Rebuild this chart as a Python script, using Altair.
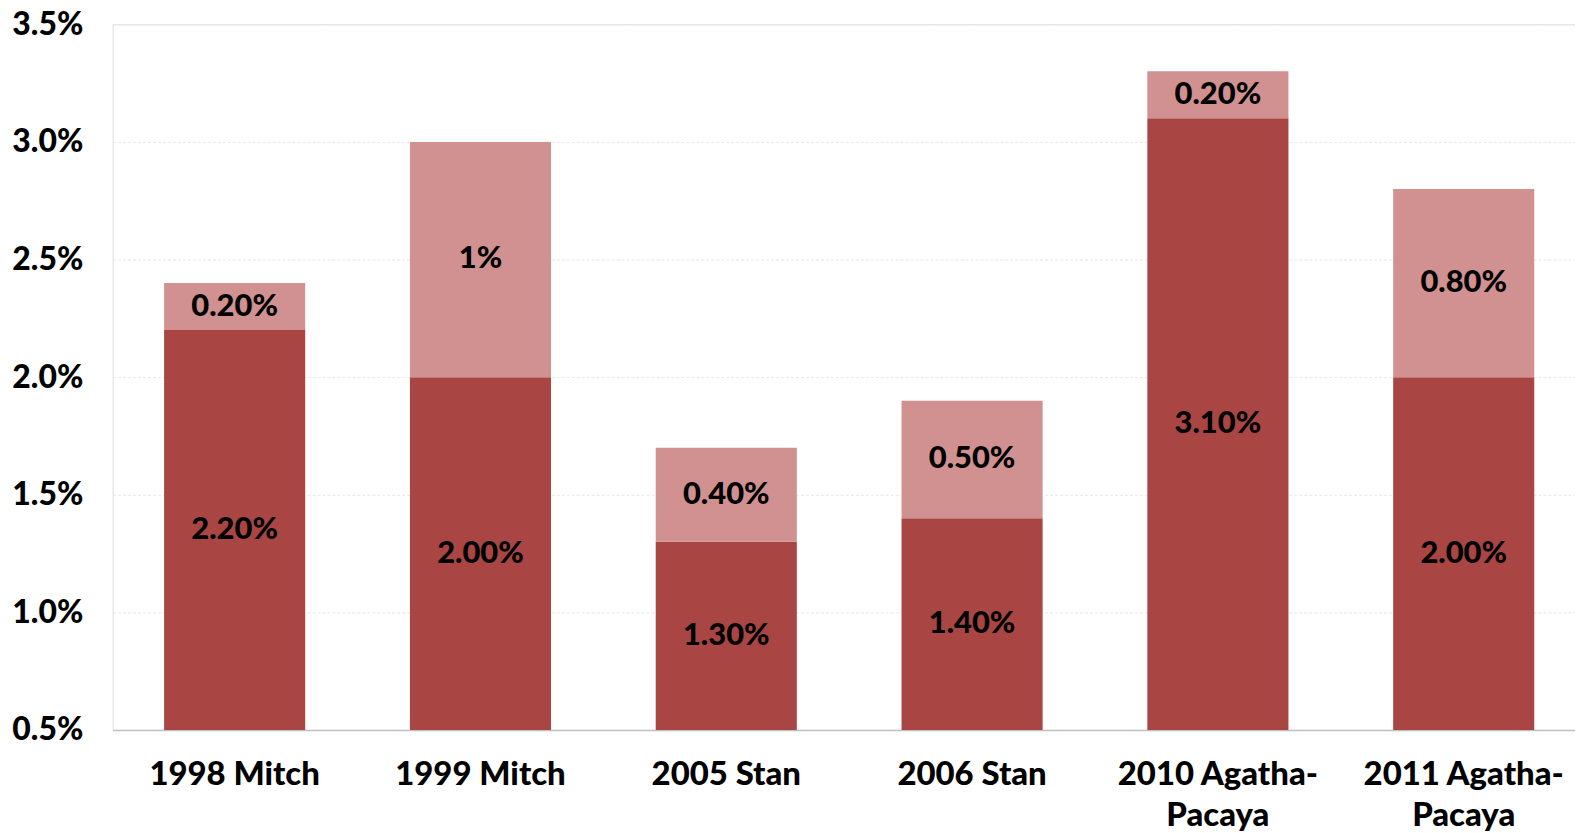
import altair as alt
import pandas as pd

categories = ["1998 Mitch", "1999 Mitch", "2005 Stan", "2006 Stan",
              "2010 Agatha-Pacaya", "2011 Agatha-Pacaya"]
dark_values = [2.2, 2.0, 1.3, 1.4, 3.1, 2.0]
light_values = [0.2, 1.0, 0.4, 0.5, 0.2, 0.8]
dark_labels = ["2.20%", "2.00%", "1.30%", "1.40%", "3.10%", "2.00%"]
light_labels = ["0.20%", "1%", "0.40%", "0.50%", "0.20%", "0.80%"]
y_ticks = [0.5, 1.0, 1.5, 2.0, 2.5, 3.0, 3.5]
y_min, y_max = 0.5, 3.5

DARK = "#A94644"
LIGHT = "#D19191"
FONT = "Lato"

df = pd.DataFrame({
    "cat": categories,
    "zero": [0.0] * len(categories),
    "dark": dark_values,
    "light": light_values,
    "dlab": dark_labels,
    "llab": light_labels,
})
df["top"] = df["dark"] + df["light"]
df["dmid"] = (df["dark"].clip(lower=y_min) + y_min) / 2
df["lmid"] = (df["dark"] + df["top"]) / 2

xenc = alt.X("cat:N", sort=categories, title=None,
             scale=alt.Scale(paddingInner=0.426, paddingOuter=0.1875, align=0.558),
             axis=alt.Axis(labelAngle=0, labelFont=FONT, labelFontSize=33,
                           labelFontWeight=900, labelColor="#000",
                           labelPadding=29, labelLineHeight=41, ticks=False,
                           labelLimit=0,
                           domainColor="#bfbfbf", domainWidth=1.5,
                           labelExpr="split(replace(datum.label, '-', '-|'), '|')"))
yscale = alt.Scale(domain=[y_min, y_max], nice=False, zero=False)
yaxis = alt.Axis(values=y_ticks,
                 labelExpr="format(datum.value, '.1f') + '%'",
                 labelFont=FONT, labelFontSize=32, labelFontWeight=900,
                 labelColor="#000", labelPadding=30, ticks=False, domain=False,
                 grid=True, gridColor="#e6e6e6", gridDash=[3, 2], gridWidth=1)

base = alt.Chart(df)

dark_bar = base.mark_bar(color=DARK, clip=True).encode(
    x=xenc,
    y=alt.Y("zero:Q", scale=yscale, axis=yaxis, title=None),
    y2="dark:Q",
)
light_bar = base.mark_bar(color=LIGHT, clip=True).encode(
    x=xenc,
    y=alt.Y("dark:Q", scale=yscale),
    y2="top:Q",
)
dark_text = base.mark_text(font=FONT, fontSize=31, fontWeight=900, color="#000",
                           baseline="middle").encode(
    x=xenc, y=alt.Y("dmid:Q", scale=yscale), text="dlab:N")
light_text = base.mark_text(font=FONT, fontSize=31, fontWeight=900, color="#000",
                            baseline="middle").encode(
    x=xenc, y=alt.Y("lmid:Q", scale=yscale), text="llab:N")

chart = alt.layer(dark_bar, light_bar, dark_text, light_text).properties(
    width=1467, height=708,
    autosize=alt.AutoSizeParams(type="none"),
    padding={"left": 105, "top": 15, "right": 0, "bottom": 100},
).configure_view(stroke=None).configure(background="white")

chart.save("out.html", embed_options={"renderer": "svg", "actions": False})
